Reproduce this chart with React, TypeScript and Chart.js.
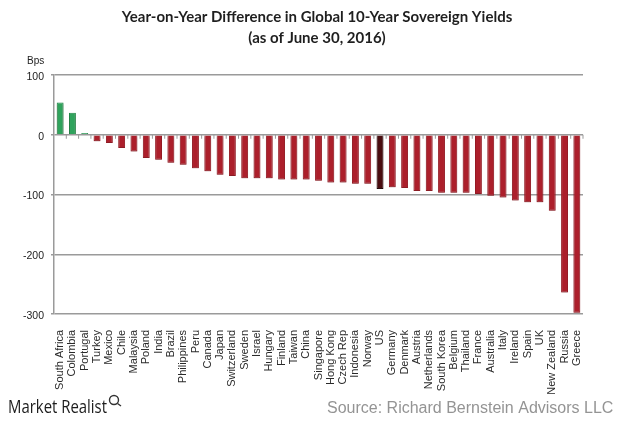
import React, { useEffect, useRef } from "react";
import { Chart, registerables } from "chart.js";

Chart.register(...registerables);

const categories = ["South Africa","Colombia","Portugal","Turkey","Mexico","Chile","Malaysia","Poland","India","Brazil","Philippines","Peru","Canada","Japan","Switzerland","Sweden","Israel","Hungary","Finland","Taiwan","China","Singapore","Hong Kong","Czech Rep","Indonesia","Norway","US","Germany","Denmark","Austria","Netherlands","South Korea","Belgium","Thailand","France","Australia","Italy","Ireland","Spain","UK","New Zealand","Russia","Greece"];
const yields = [54,37,3,-11,-14,-22,-28,-39,-42,-47,-50,-56,-61,-67,-69,-73,-73,-73,-75,-75,-75,-77,-80,-80,-82,-82,-91,-88,-89,-94,-94,-97,-97,-97,-99,-102,-105,-110,-113,-113,-127,-264,-298];
const titleLines = ["Year-on-Year Difference in Global 10-Year Sovereign Yields", "(as of June 30, 2016)"];
const yTicks = [100, 0, -100, -200, -300];
const unitLabel = "Bps";
const brand = "Market Realist";
const source = "Source: Richard Bernstein Advisors LLC";

const fill = (c: string) => (c === "US" ? "#4a0d10" : "#ac1f2b");
const edge = (c: string, v: number) => (c === "US" ? "#160404" : v > 0 ? "#1f8a48" : "#9c1a25");

const decor = {
  id: "decor",
  afterLayout(chart: any) {
    // the reference's title is centred a little right of the page centre
    chart.titleBlock.left = 24;
    chart.titleBlock.right = 610;
  },
  beforeDatasetsDraw(chart: any) {
    const { ctx, scales } = chart;
    ctx.save();
    ctx.strokeStyle = "#9a9a9a";
    ctx.lineWidth = 1;
    const y0 = scales.y.getPixelForValue(0);
    const x = scales.x;
    const step = x.getPixelForValue(1) - x.getPixelForValue(0);
    categories.forEach((_, i) => {
      const px = x.getPixelForValue(i) + step / 2;
      ctx.beginPath();
      ctx.moveTo(px, y0);
      ctx.lineTo(px, y0 + 4);
      ctx.stroke();
    });
    ctx.restore();
  },
  beforeDatasetDraw(chart: any) {
    const { ctx } = chart;
    ctx.save();
    ctx.shadowColor = "rgba(90,40,40,0.35)";
    ctx.shadowBlur = 2;
    ctx.shadowOffsetY = 1.5;
  },
  afterDatasetDraw(chart: any) {
    chart.ctx.restore();
  },
  afterDraw(chart: any) {
    const { ctx } = chart;
    ctx.save();
    ctx.textBaseline = "alphabetic";
    ctx.textAlign = "left";
    ctx.fillStyle = "#222";
    ctx.font = "10px 'Liberation Sans'";
    ctx.fillText(unitLabel, 27, 64);
    ctx.fillStyle = "#1c1c1c";
    ctx.font = "18px 'Open Sans'";
    ctx.fillText(brand, 8, 413, 99);
    ctx.strokeStyle = "#333";
    ctx.lineWidth = 1.4;
    ctx.beginPath();
    ctx.arc(114, 400, 4.5, 0, Math.PI * 2);
    ctx.stroke();
    ctx.beginPath();
    ctx.moveTo(117.5, 403.5);
    ctx.lineTo(121, 406);
    ctx.stroke();
    ctx.fillStyle = "#949494";
    ctx.font = "16px 'Liberation Sans'";
    ctx.fillText(source, 327, 413);
    ctx.restore();
  },
};

export default function App() {
  const ref = useRef<HTMLCanvasElement>(null);
  useEffect(() => {
    const chart = new Chart(ref.current as HTMLCanvasElement, {
      type: "bar",
      data: {
        labels: categories,
        datasets: [
          {
            data: yields,
            backgroundColor: yields.map((v, i) => (v > 0 ? "#2fa35c" : fill(categories[i]))),
            borderColor: yields.map((v, i) => edge(categories[i], v)),
            borderWidth: 1,
            barPercentage: 0.56,
            categoryPercentage: 1,
          },
        ],
      },
      plugins: [decor],
      options: {
        responsive: false,
        animation: false,
        devicePixelRatio: 1,
        layout: { padding: { left: 0, right: 37, top: 0, bottom: 0 } },
        plugins: {
          legend: { display: false },
          tooltip: { enabled: false },
          title: {
            display: true,
            text: titleLines,
            color: "#1f1f1f",
            font: { family: "Lato", size: 15, weight: "bold", lineHeight: 1.4 },
            padding: { top: 7, bottom: 26 },
          },
        },
        scales: {
          x: {
            grid: { display: false },
            border: { display: false },
            ticks: {
              autoSkip: false,
              maxRotation: 90,
              minRotation: 90,
              padding: 8,
              color: "#2a2a2a",
              font: { family: "Liberation Sans", size: 11 },
            },
            afterFit(s: any) {
              s.height = 108;
            },
          },
          y: {
            min: -300,
            max: 100,
            afterBuildTicks(s: any) {
              s.ticks = yTicks.map((value) => ({ value }));
            },
            grid: { color: "#9a9a9a", lineWidth: 1.5, tickLength: 3, tickColor: "#9a9a9a" },
            border: { color: "#9a9a9a", width: 1.5 },
            ticks: {
              padding: 7,
              labelOffset: 2,
              color: "#222",
              font: { family: "Liberation Sans", size: 10.5 },
            },
            afterFit(s: any) {
              s.width = 54;
            },
          },
        },
      },
    } as any);
    return () => chart.destroy();
  }, []);
  return (
    <div style={{ position: "absolute", left: 0, top: 0 }}>
      <canvas ref={ref} width={620} height={422} style={{ display: "block", width: 620, height: 422 }} />
    </div>
  );
}
